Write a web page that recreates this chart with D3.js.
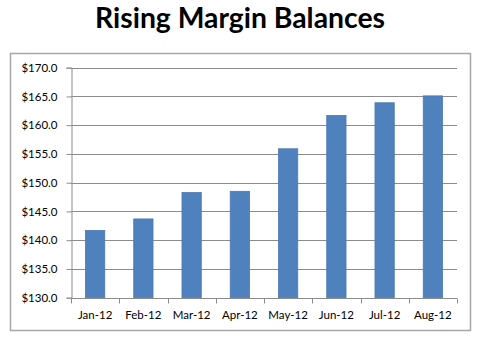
<!DOCTYPE html>
<html>
<head>
<meta charset="utf-8">
<script src="https://cdn.jsdelivr.net/npm/d3@7"></script>
<style>
  html, body { margin: 0; padding: 0; background: #fff; }
  svg { display: block; }
</style>
</head>
<body>
<script>
// Monthly margin balances ($ billions)
const months = ["Jan-12", "Feb-12", "Mar-12", "Apr-12", "May-12", "Jun-12", "Jul-12", "Aug-12"];
const balances = [141.7, 143.7, 148.3, 148.5, 155.9, 161.7, 163.9, 165.1];
const yTicks = [130, 135, 140, 145, 150, 155, 160, 165, 170];
const titleText = "Rising Margin Balances";

const W = 480, H = 342;
const svg = d3.select("body").append("svg").attr("width", W).attr("height", H);

// Chart frame
svg.append("rect")
  .attr("x", 10.5).attr("y", 53.5)
  .attr("width", 460).attr("height", 277)
  .attr("fill", "#fff")
  .attr("stroke", "#a6a6a6")
  .attr("stroke-width", 1.5);

// Title
const title = svg.append("text")
  .attr("x", 240).attr("y", 27.5)
  .attr("text-anchor", "middle")
  .attr("font-family", "Lato, 'Open Sans', sans-serif")
  .attr("font-weight", "bold")
  .attr("font-size", 27)
  .attr("fill", "#000")
  .text(titleText);
const tw = title.node().getComputedTextLength();
title.attr("font-size", 27 * 290 / tw);

const plot = { left: 71, right: 457, top: 67.7, bottom: 297.7 };

const x = d3.scaleBand()
  .domain(months)
  .range([plot.left, plot.right])
  .paddingInner(0.6)
  .paddingOuter(0.3);

const y = d3.scaleLinear()
  .domain([130, 170])
  .range([plot.bottom, plot.top]);

// Horizontal gridlines
svg.append("g")
  .selectAll("line")
  .data(yTicks.filter(d => d > 130))
  .join("line")
  .attr("x1", plot.left).attr("x2", plot.right)
  .attr("y1", d => Math.round(y(d)) + 0.5)
  .attr("y2", d => Math.round(y(d)) + 0.5)
  .attr("stroke", "#8c8c8c")
  .attr("stroke-width", 1);

// Bars
svg.append("g")
  .selectAll("rect")
  .data(months.map((m, i) => ({ m, v: balances[i] })))
  .join("rect")
  .attr("x", d => x(d.m))
  .attr("width", x.bandwidth())
  .attr("y", d => y(d.v))
  .attr("height", d => y(130) - y(d.v))
  .attr("fill", "#4f81bd")
  .attr("stroke", "#4a7ab5")
  .attr("stroke-width", 0.8);

const labelFont = "Lato, 'Open Sans', sans-serif";

// Y axis
const yAxis = svg.append("g")
  .attr("transform", `translate(${plot.left + 0.5},0)`)
  .call(d3.axisLeft(y).tickValues(yTicks).tickSize(5).tickPadding(9)
    .tickFormat(d => "$" + d3.format(".1f")(d)));
yAxis.select(".domain").attr("stroke", "#8c8c8c");
yAxis.selectAll(".tick line").attr("stroke", "#8c8c8c");
yAxis.selectAll(".tick text")
  .attr("font-family", labelFont)
  .attr("font-size", 11.5)
  .attr("fill", "#000");

// X axis
const xBound = d3.scalePoint().domain(d3.range(months.length + 1)).range([plot.left, plot.right]);
const xAxis = svg.append("g")
  .attr("transform", `translate(0,${Math.round(plot.bottom) + 0.5})`);
xAxis.append("line")
  .attr("x1", plot.left).attr("x2", plot.right)
  .attr("stroke", "#8c8c8c");
xAxis.selectAll("line.tick")
  .data(d3.range(months.length + 1))
  .join("line")
  .attr("class", "tick")
  .attr("x1", d => Math.round(xBound(d)) + 0.5)
  .attr("x2", d => Math.round(xBound(d)) + 0.5)
  .attr("y1", 0).attr("y2", 5)
  .attr("stroke", "#8c8c8c");
xAxis.selectAll("text")
  .data(months)
  .join("text")
  .attr("x", d => x(d) + x.bandwidth() / 2)
  .attr("y", 20.5)
  .attr("text-anchor", "middle")
  .attr("font-family", labelFont)
  .attr("font-size", 11.5)
  .attr("fill", "#000")
  .text(d => d);
</script>
</body>
</html>
